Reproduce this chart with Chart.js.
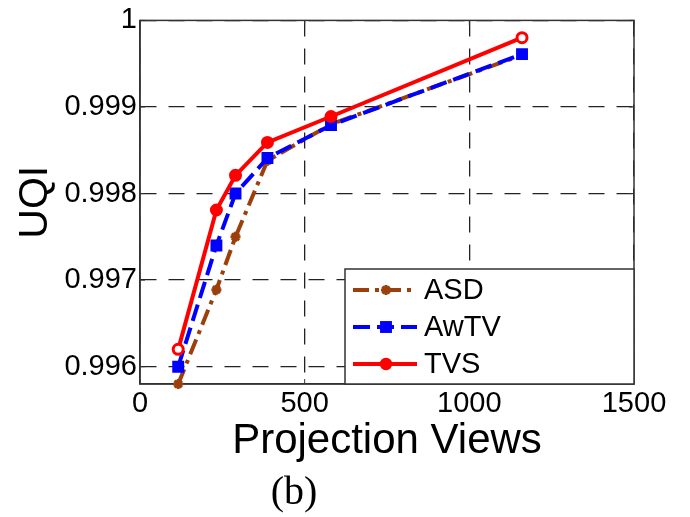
<!DOCTYPE html>
<html>
<head>
<meta charset="utf-8">
<script src="https://cdn.jsdelivr.net/npm/chart.js@4.4.1/dist/chart.umd.min.js"></script>
<style>
  html, body { margin: 0; padding: 0; background: #fff; }
  #wrap { width: 690px; height: 517px; }
</style>
</head>
<body>
<div id="wrap"><canvas id="uqiChart" width="690" height="517"></canvas></div>
<script>
// projection views (1160 / 10, 5, 4, 3, 2, 1)
const projectionViews = [116, 232, 290, 387, 580, 1160];
const asdUqi = [0.9958, 0.99689, 0.9975, 0.99838, 0.9988, 0.9996];
const awtvUqi = [0.996, 0.9974, 0.998, 0.99841, 0.99879, 0.99961];
const tvsUqi = [0.9962, 0.99781, 0.99821, 0.99859, 0.99889, 0.9998];
const seriesNames = ["ASD", "AwTV", "TVS"];
const xTicks = [0, 500, 1000, 1500];
const yTicks = [0.996, 0.997, 0.998, 0.999, 1];

const SANS = "'Liberation Sans', Arial, Helvetica, sans-serif";
const BROWN = "#9c3f0b";
const BLUE = "#0000ff";
const RED = "#ff0000";

const toPoints = (ys) => ys.map((y, i) => ({ x: projectionViews[i], y: y }));

function drawMarker(ctx, style, x, y, r, color, fill) {
  ctx.save();
  ctx.setLineDash([]);
  ctx.strokeStyle = color;
  ctx.fillStyle = fill;
  if (style === "circle") {
    ctx.lineWidth = 2.5;
    ctx.beginPath();
    ctx.arc(x, y, r, 0, Math.PI * 2);
    ctx.fill();
    ctx.stroke();
  } else if (style === "rect") {
    const s = r / Math.SQRT2;
    ctx.lineWidth = 2;
    ctx.fillRect(x - s, y - s, 2 * s, 2 * s);
    ctx.strokeRect(x - s, y - s, 2 * s, 2 * s);
  } else {
    ctx.lineWidth = 3;
    ctx.beginPath();
    for (let k = 0; k < 4; k++) {
      const a = (k * Math.PI) / 4;
      ctx.moveTo(x - r * Math.cos(a), y - r * Math.sin(a));
      ctx.lineTo(x + r * Math.cos(a), y + r * Math.sin(a));
    }
    ctx.stroke();
  }
  ctx.restore();
}

// box around the plot + small inward ticks
const framePlugin = {
  id: "frame",
  beforeDatasetsDraw(chart) {
    const { ctx, chartArea: a } = chart;
    const xs = chart.scales.x, ys = chart.scales.y;
    ctx.save();
    ctx.strokeStyle = "#333";
    ctx.lineWidth = 1.5;
    ctx.strokeRect(a.left, a.top, a.right - a.left, a.bottom - a.top);
    ctx.lineWidth = 1;
    ctx.beginPath();
    xTicks.forEach((v) => {
      const p = xs.getPixelForValue(v);
      ctx.moveTo(p, a.bottom); ctx.lineTo(p, a.bottom - 5);
      ctx.moveTo(p, a.top); ctx.lineTo(p, a.top + 5);
    });
    yTicks.forEach((v) => {
      const p = ys.getPixelForValue(v);
      ctx.moveTo(a.left, p); ctx.lineTo(a.left + 5, p);
      ctx.moveTo(a.right, p); ctx.lineTo(a.right - 5, p);
    });
    ctx.stroke();
    ctx.restore();
  },
};

// legend box in the lower right corner of the plot
const legendPlugin = {
  id: "boxLegend",
  afterDatasetsDraw(chart) {
    const { ctx, chartArea: a } = chart;
    const w = 289, h = 115;
    const left = a.right - w, top = a.bottom - h;
    ctx.save();
    ctx.fillStyle = "#fff";
    ctx.fillRect(left, top, w, h);
    ctx.strokeStyle = "#333";
    ctx.lineWidth = 1.5;
    ctx.strokeRect(left, top, w, h);
    ctx.font = "29px " + SANS;
    ctx.textBaseline = "middle";
    chart.data.datasets.forEach((ds, i) => {
      const y = top + 21 + i * 37;
      ctx.save();
      ctx.strokeStyle = ds.borderColor;
      ctx.lineWidth = ds.borderWidth;
      ctx.setLineDash(ds.borderDash || []);
      ctx.beginPath();
      ctx.moveTo(left + 8, y);
      ctx.lineTo(left + 72, y);
      ctx.stroke();
      ctx.restore();
      drawMarker(ctx, ds.pointStyle, left + 41, y, ds.pointRadius, ds.borderColor, ds.borderColor);
      ctx.fillStyle = "#000";
      ctx.fillText(ds.label, left + 79, y + 1);
    });
    ctx.restore();
  },
};

// panel caption
const captionPlugin = {
  id: "caption",
  afterDraw(chart) {
    const ctx = chart.ctx;
    ctx.save();
    ctx.font = "40px 'Liberation Serif', 'Times New Roman', serif";
    ctx.fillStyle = "#000";
    ctx.textAlign = "center";
    ctx.textBaseline = "middle";
    ctx.fillText("(b)", 294, 493);
    ctx.restore();
  },
};

new Chart(document.getElementById("uqiChart"), {
  type: "line",
  data: {
    datasets: [
      {
        label: seriesNames[0],
        data: toPoints(asdUqi),
        borderColor: BROWN,
        backgroundColor: BROWN,
        borderWidth: 4,
        borderDash: [16, 6, 4, 6],
        pointStyle: "star",
        pointRadius: 5,
        pointBorderWidth: 3,
        order: 3,
      },
      {
        label: seriesNames[1],
        data: toPoints(awtvUqi),
        borderColor: BLUE,
        backgroundColor: BLUE,
        borderWidth: 4,
        borderDash: [17, 7],
        pointStyle: "rect",
        pointRadius: 7,
        pointBorderWidth: 2,
        order: 2,
      },
      {
        label: seriesNames[2],
        data: toPoints(tvsUqi),
        borderColor: RED,
        backgroundColor: RED,
        pointBackgroundColor: ["#fff", RED, RED, RED, RED, "#fff"],
        borderWidth: 4,
        pointStyle: "circle",
        pointRadius: 5,
        pointBorderWidth: 3,
        order: 1,
      },
    ],
  },
  options: {
    responsive: false,
    animation: false,
    clip: false,
    layout: { padding: { top: 20, right: 56, left: 0, bottom: 0 } },
    elements: { line: { tension: 0, fill: false } },
    plugins: { legend: { display: false }, tooltip: { enabled: false } },
    scales: {
      x: {
        type: "linear",
        min: 0,
        max: 1500,
        afterFit: (s) => { s.height = 133; },
        afterBuildTicks: (s) => { s.ticks = xTicks.map((v) => ({ value: v })); },
        ticks: {
          font: { family: SANS, size: 29 },
          color: "#000",
          padding: 3,
          maxRotation: 0,
          callback: (v) => String(v),
        },
        grid: { color: "#222", lineWidth: 1.3, drawTicks: false },
        border: { display: true, color: "#333", width: 1.5, dash: [16, 12] },
        title: {
          display: true,
          text: "Projection Views",
          color: "#000",
          font: { family: SANS, size: 42 },
          padding: { top: 0, bottom: 50 },
        },
      },
      y: {
        type: "linear",
        min: 0.9958,
        max: 1,
        afterFit: (s) => { s.width = 140; },
        afterBuildTicks: (s) => { s.ticks = yTicks.map((v) => ({ value: v })); },
        ticks: {
          font: { family: SANS, size: 29 },
          color: "#000",
          padding: 3,
          callback: (v) => String(v),
        },
        grid: { color: "#222", lineWidth: 1.3, drawTicks: false },
        border: { display: true, color: "#333", width: 1.5, dash: [16, 12] },
        title: {
          display: true,
          text: "UQI",
          color: "#000",
          font: { family: SANS, size: 41 },
          padding: { top: 11, bottom: 0 },
        },
      },
    },
  },
  plugins: [framePlugin, legendPlugin, captionPlugin],
});
</script>
</body>
</html>
